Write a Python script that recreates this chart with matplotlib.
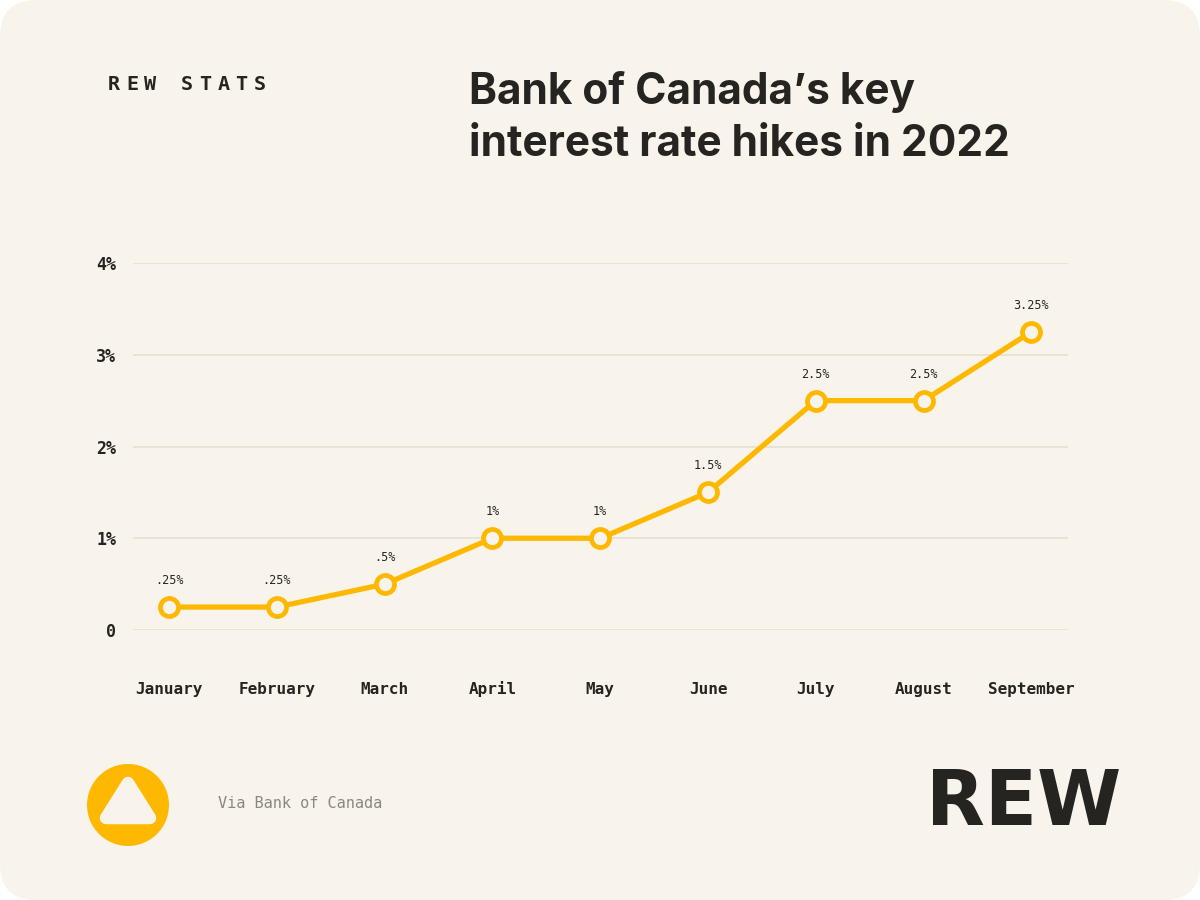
import numpy as np
import matplotlib.pyplot as plt
from matplotlib.patches import FancyBboxPatch, Ellipse, Polygon

# data
months = ['January', 'February', 'March', 'April', 'May', 'June', 'July', 'August', 'September']
rates = [0.25, 0.25, 0.5, 1.0, 1.0, 1.5, 2.5, 2.5, 3.25]
rate_labels = ['.25%', '.25%', '.5%', '1%', '1%', '1.5%', '2.5%', '2.5%', '3.25%']
y_ticks = [0, 1, 2, 3, 4]
y_tick_labels = ['0', '1%', '2%', '3%', '4%']

BG = '#f8f4ec'
DARK = '#262421'
ORANGE = '#ffb800'
GRID = '#e8e2d3'
MONO = 'DejaVu Sans Mono'

W, H = 1200, 900
fig = plt.figure(figsize=(12, 9), dpi=100, facecolor='white')

# rounded card background
card = FancyBboxPatch((0, 0), 1, 1, boxstyle='round,pad=0,rounding_size=0.03',
                      transform=fig.transFigure, facecolor=BG, edgecolor='none',
                      mutation_aspect=W / H, zorder=-10)
fig.patches.append(card)


def fx(px):
    return px / W


def fy(py):
    return 1 - py / H


ax = fig.add_axes([fx(133), fy(630), fx(1068) - fx(133), fy(263) - fy(630)])
ax.set_zorder(5)
ax.set_facecolor('none')
x = np.arange(len(months))
ax.set_xlim(-0.335, 8.34)
ax.set_ylim(0, 4)

for t in y_ticks:
    ax.axhline(t, color=GRID, linewidth=1.3, zorder=1)

ax.plot(x, rates, color=ORANGE, linewidth=3.8, zorder=3, clip_on=False,
        marker='o', markersize=13, markerfacecolor=BG, markeredgecolor=ORANGE,
        markeredgewidth=3.4, solid_joinstyle='round')

for xi, yi, lab in zip(x, rates, rate_labels):
    ax.annotate(lab, (xi, yi), xytext=(0, 19), textcoords='offset points',
                ha='center', va='center', fontsize=8.5, family=MONO, color=DARK)

for s in ax.spines.values():
    s.set_visible(False)
ax.set_yticks(y_ticks)
ax.set_yticklabels(y_tick_labels, fontsize=12, family=MONO, fontweight='bold', color=DARK,
                   va='center_baseline')
ax.set_xticks(x)
ax.set_xticklabels(months, fontsize=11.5, family=MONO, fontweight='bold', color=DARK,
                   va='baseline')
ax.tick_params(axis='y', length=0, pad=12)
ax.tick_params(axis='x', length=0, pad=46)

# header
for i, ch in enumerate('REW STATS'):
    fig.text(fx(108 + i * 18.2), fy(84), ch, fontsize=14.5, family=MONO,
             fontweight='bold', color=DARK, ha='left', va='center')

fig.text(fx(469), fy(92), 'Bank of Canada\u2019s key', fontsize=30.5, family='Inter',
         fontweight='bold', color=DARK, ha='left', va='center')
fig.text(fx(469), fy(145), 'interest rate hikes in 2022', fontsize=30.5, family='Inter',
         fontweight='bold', color=DARK, ha='left', va='center')

# footer logo
fig.patches.append(Ellipse((fx(128), fy(805)), 82 / W, 82 / H, transform=fig.transFigure,
                           facecolor=ORANGE, edgecolor='none'))
tri = Polygon([(fx(128), fy(783)), (fx(106), fy(818)), (fx(150), fy(818))],
              closed=True, transform=fig.transFigure, facecolor=BG, edgecolor=BG,
              linewidth=9, joinstyle='round')
fig.patches.append(tri)

fig.text(fx(218), fy(803), 'Via Bank of Canada', fontsize=11, family=MONO,
         color='#8a8682', ha='left', va='center')

fig.text(fx(1121), fy(804), 'REW', fontsize=55, family='DejaVu Sans', fontweight='bold',
         color=DARK, ha='right', va='center')

fig.savefig('out.png', dpi=100, facecolor=fig.get_facecolor())
